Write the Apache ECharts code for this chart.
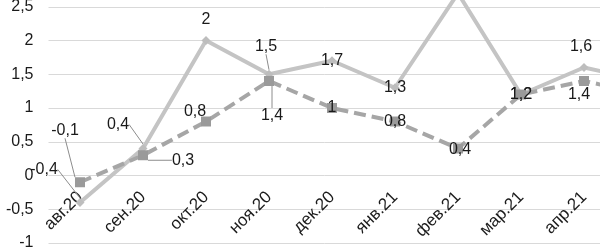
<!DOCTYPE html>
<html><head><meta charset="utf-8">
<script src="https://cdn.jsdelivr.net/npm/echarts@6/dist/echarts.min.js"></script>
<style>html,body{margin:0;padding:0;background:#fff}#c{width:600px;height:249px}</style>
</head><body><div id="c"></div>
<script>
var categories = ['авг.20','сен.20','окт.20','ноя.20','дек.20','янв.21','фев.21','мар.21','апр.21','май.21'];
var seriesSolid = [-0.4, 0.4, 2, 1.5, 1.7, 1.3, 2.7, 1.2, 1.6, 1.4];
var seriesDashed = [-0.1, 0.3, 0.8, 1.4, 1, 0.8, 0.4, 1.2, 1.4, 1.2];
var yTicks = {min: -1, max: 3, step: 0.5};

// label placement (style): [dx, dy, leader]
var solidLbl = [[-36,-33,1],[-25,-24,1],[0,-21,0],[-3,-28,1],[0,0,0],[0,0,0],[0,-21,0],[0,0,0],[-3,-21,0],[0,-21,0]];
var dashLbl  = [[-15,-52,1],[40,5,1],[-11,-10,0],[3,35,1],[0,0,0],[0,0,0],[2,1,0],[0,0,0],[-5,14,0],[0,14,0]];

function fmt(v){ return String(v).replace('.', ','); }
function mkData(vals, lbl){
  return vals.map(function(v,i){
    return {value: v, labelLine: {show: !!lbl[i][2], lineStyle:{color:'#8c8c8c', width:1}}};
  });
}
var chart = echarts.init(document.getElementById('c'));
chart.setOption({
  animation: false,
  grid: {left: 48.5, top: -27, width: 630, height: 270, containLabel: false, outerBoundsMode: 'none'},
  xAxis: {
    type: 'category', data: categories, boundaryGap: true,
    offset: -67.5,
    axisLine: {show: false, onZero: false},
    axisTick: {show: false},
    axisLabel: {rotate: 45, margin: 19, fontSize: 17, color: '#1a1a1a', fontFamily: 'Liberation Sans', interval: 0}
  },
  yAxis: {
    type: 'value', min: yTicks.min, max: yTicks.max, interval: yTicks.step,
    axisLine: {show: false}, axisTick: {show: false},
    axisLabel: {fontSize: 16, color: '#1a1a1a', margin: 15, fontFamily: 'Liberation Sans', formatter: fmt},
    splitLine: {lineStyle: {color: '#d9d9d9', width: 1}}
  },
  series: [
    {
      type: 'line', data: mkData(seriesSolid, solidLbl),
      symbol: 'diamond', symbolSize: 9,
      itemStyle: {color: '#bdbdbd'},
      lineStyle: {color: '#c4c4c4', width: 4},
      label: {show: true, position: 'inside', fontSize: 16, color: '#1a1a1a', fontFamily: 'Liberation Sans',
              formatter: function(p){ return fmt(p.value); }},
      labelLine: {show: false},
      labelLayout: function(p){ var o = solidLbl[p.dataIndex]; return {dx: o[0], dy: o[1]}; },
      z: 2
    },
    {
      type: 'line', data: mkData(seriesDashed, dashLbl),
      symbol: 'rect', symbolSize: 10,
      itemStyle: {color: '#9a9a9a'},
      lineStyle: {color: '#a6a6a6', width: 4, type: [12, 6]},
      label: {show: true, position: 'inside', fontSize: 16, color: '#1a1a1a', fontFamily: 'Liberation Sans',
              formatter: function(p){ return fmt(p.value); }},
      labelLine: {show: false},
      labelLayout: function(p){ var o = dashLbl[p.dataIndex]; return {dx: o[0], dy: o[1]}; },
      z: 3
    }
  ]
});
</script></body></html>
